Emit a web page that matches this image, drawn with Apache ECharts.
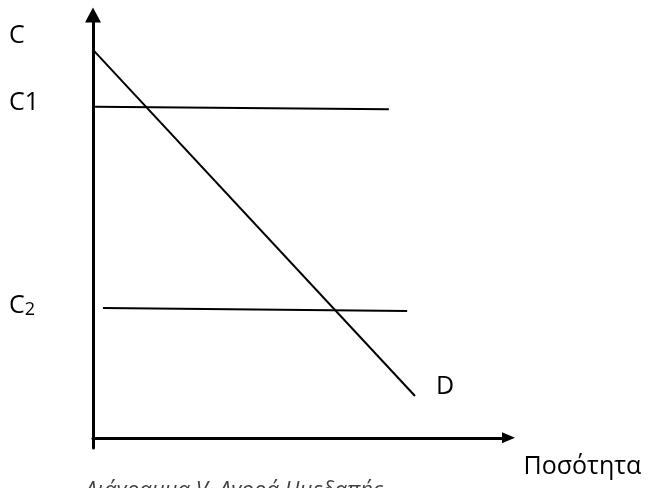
<!DOCTYPE html>
<html>
<head>
<meta charset="UTF-8">
<title>Ζήτηση</title>
<script src="https://cdn.jsdelivr.net/npm/echarts@6/dist/echarts.min.js"></script>
<style>
html,body{margin:0;padding:0;background:#fff;}
#main{width:648px;height:488px;}
</style>
</head>
<body>
<div id="main"></div>
<script>
// lines, in axis units (x 0..100, y 0..100)
var demandLine = [[0.24, 91.5], [77.5, 9.9]];
var c1Line = [[0.5, 78.3], [71.2, 77.7]];
var c2Line = [[2.4, 30.7], [75.6, 30.0]];
var priceTicks = [95.0, 79.3, 31.1];
var priceNames = ['C', 'C1', 'C2'];
var xName = 'Ποσότητα';
var caption = 'Διάγραμμα V. Αγορά Ημεδαπής';

var font = 'Open Sans';
var fs = 25;
var chart = echarts.init(document.getElementById('main'));

function lineSeries(data, w) {
  return {
    type: 'line',
    data: data,
    symbol: 'none',
    silent: true,
    lineStyle: { color: '#000', width: w }
  };
}

var demand = lineSeries(demandLine, 2);
demand.endLabel = {
  show: true,
  formatter: 'D',
  offset: [13, -9],
  color: '#000',
  fontFamily: font,
  fontSize: fs
};

chart.setOption({
  animation: false,
  title: {
    text: caption,
    left: 80,
    top: 475,
    textStyle: { fontFamily: font, fontStyle: 'italic', fontWeight: 'normal', fontSize: 22, color: '#404040' }
  },
  grid: { left: 93, right: 139.5, top: 15, bottom: 40 },
  xAxis: {
    type: 'value',
    min: 0, max: 100,
    name: xName,
    nameLocation: 'end',
    nameGap: 15,
    nameTextStyle: { fontFamily: font, fontSize: fs, color: '#000', align: 'left', verticalAlign: 'top', padding: [17, 0, 0, 0] },
    axisLine: { onZero: true, symbol: ['none', 'triangle'], symbolSize: [11, 13], lineStyle: { color: '#000', width: 3 } },
    axisTick: { show: false },
    axisLabel: { show: false },
    splitLine: { show: false }
  },
  yAxis: {
    type: 'value',
    min: -2.4, max: 100,
    axisLine: { onZero: false, symbol: ['none', 'triangle'], symbolSize: [16, 15], lineStyle: { color: '#000', width: 3 } },
    axisTick: { show: false },
    splitLine: { show: false },
    axisLabel: {
      show: true,
      customValues: priceTicks,
      align: 'left',
      margin: 84,
      color: '#000',
      formatter: function (v) {
        var i = priceTicks.indexOf(v);
        var s = priceNames[i] || '';
        if (s === 'C2') return '{b|C}{s|2}';
        return '{b|' + s + '}';
      },
      rich: {
        b: { fontFamily: font, fontSize: fs, color: '#000' },
        s: { fontFamily: font, fontSize: 18, color: '#000', verticalAlign: 'bottom', padding: [5, 0, 0, 0] }
      }
    }
  },
  series: [demand, lineSeries(c1Line, 2), lineSeries(c2Line, 2)]
});
</script>
</body>
</html>
